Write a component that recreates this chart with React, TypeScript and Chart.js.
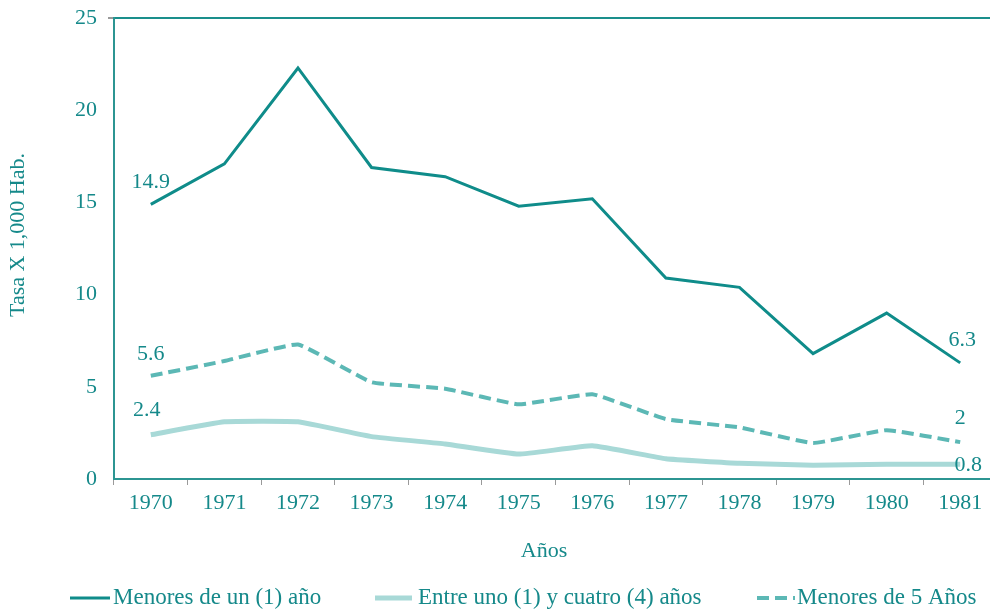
import React, { useEffect, useRef } from "react";
import { Chart, registerables } from "chart.js";

Chart.register(...registerables);

const years = ["1970", "1971", "1972", "1973", "1974", "1975", "1976", "1977", "1978", "1979", "1980", "1981"];
const menoresUnAno = [14.9, 17.1, 22.3, 16.9, 16.4, 14.8, 15.2, 10.9, 10.4, 6.8, 9.0, 6.3];
const entreUnoCuatro = [2.4, 3.1, 3.1, 2.3, 1.9, 1.35, 1.8, 1.1, 0.85, 0.75, 0.8, 0.8];
const menoresCinco = [5.6, 6.4, 7.3, 5.25, 4.9, 4.05, 4.6, 3.25, 2.8, 1.95, 2.65, 2.0];
const seriesNames = ["Menores de un (1) año", "Entre uno (1) y cuatro (4) años", "Menores de 5 Años"];
const yTitle = "Tasa X 1,000 Hab.";
const xTitle = "Años";

const TEXT = "#15898a";
const C1 = "#0f8c8a";
const C2 = "#a8d9d7";
const C3 = "#5cb8b5";
const FONT = "'Liberation Serif', 'Times New Roman', serif";
const OY = 6;

export default function App() {
  const ref = useRef<HTMLCanvasElement | null>(null);
  useEffect(() => {
    if (!ref.current) return;
    const labelPlugin = {
      id: "labelsLegend",
      afterDatasetsDraw(chart: any) {
        const ctx = chart.ctx;
        ctx.save();
        ctx.font = `22px ${FONT}`;
        ctx.fillStyle = TEXT;
        ctx.textAlign = "center";
        ctx.textBaseline = "middle";
        const pt = (d: number, i: number) => chart.getDatasetMeta(d).data[i];
        const last = years.length - 1;
        const fmt = (v: number) => String(v);
        let p = pt(0, 0);
        ctx.fillText(fmt(menoresUnAno[0]), p.x, p.y - 22);
        p = pt(0, last);
        ctx.fillText(fmt(menoresUnAno[last]), p.x + 2, p.y - 23);
        p = pt(2, 0);
        ctx.fillText(fmt(menoresCinco[0]), p.x, p.y - 22);
        p = pt(2, last);
        ctx.fillText(fmt(menoresCinco[last]), p.x, p.y - 24);
        p = pt(1, 0);
        ctx.fillText(fmt(entreUnoCuatro[0]), p.x - 4, p.y - 25);
        p = pt(1, last);
        ctx.fillText(fmt(entreUnoCuatro[last]), p.x + 8, p.y + 1);

        // axis titles
        ctx.fillText(xTitle, 544, 551 + OY);
        ctx.save();
        ctx.translate(18, 235 + OY);
        ctx.rotate(-Math.PI / 2);
        ctx.fillText(yTitle, 0, 0);
        ctx.restore();

        // legend
        ctx.font = `23px ${FONT}`;
        const ly = 598 + OY;
        const items = [
          { x0: 70, x1: 110, tx: 113, color: C1, w: 3, dash: [] as number[] },
          { x0: 375, x1: 412, tx: 418, color: C2, w: 5, dash: [] as number[] },
          { x0: 757, x1: 795, tx: 797, color: C3, w: 4, dash: [12, 6] },
        ];
        items.forEach((it, i) => {
          ctx.beginPath();
          ctx.strokeStyle = it.color;
          ctx.lineWidth = it.w;
          ctx.setLineDash(it.dash);
          ctx.moveTo(it.x0, ly);
          ctx.lineTo(it.x1, ly);
          ctx.stroke();
          ctx.setLineDash([]);
          ctx.textAlign = "left";
          ctx.fillStyle = TEXT;
          ctx.fillText(seriesNames[i], it.tx, ly);
        });
        ctx.restore();
      },
    };
    const chart = new Chart(ref.current, {
      type: "line",
      data: {
        labels: years,
        datasets: [
          { label: seriesNames[0], data: menoresUnAno, borderColor: C1, borderWidth: 3, pointRadius: 0, tension: 0 },
          { label: seriesNames[1], data: entreUnoCuatro, borderColor: C2, borderWidth: 5, pointRadius: 0, tension: 0.1 },
          { label: seriesNames[2], data: menoresCinco, borderColor: C3, borderWidth: 4, borderDash: [12, 6], pointRadius: 0, tension: 0.1 },
        ],
      },
      options: {
        responsive: false,
        animation: false,
        layout: { padding: { left: 0, right: 3, top: 11, bottom: 0 } },
        plugins: { legend: { display: false }, tooltip: { enabled: false } },
        scales: {
          x: {
            type: "category",
            offset: true,
            grid: { offset: true, drawOnChartArea: false, tickLength: 6, tickColor: "#9a9a9a", tickWidth: 1 },
            border: { color: "#2c9592", width: 2 },
            ticks: { color: TEXT, font: { family: FONT, size: 22 }, padding: 5, maxRotation: 0 },
            afterFit: (s: any) => { s.height = 130; },
          },
          y: {
            min: 0,
            max: 25,
            ticks: { stepSize: 5, color: TEXT, font: { family: FONT, size: 22 }, padding: 11 },
            grid: {
              tickLength: 6,
              tickColor: "#9a9a9a",
              color: (c: any) => (c.tick && c.tick.value === 25 ? "#1a8f8c" : "rgba(0,0,0,0)"),
              lineWidth: (c: any) => (c.tick && c.tick.value === 25 ? 2 : 0),
            },
            border: { color: "#2c9592", width: 2 },
            afterFit: (s: any) => { s.width = 114; },
          },
        },
      },
      plugins: [labelPlugin],
    } as any);
    return () => chart.destroy();
  }, []);
  return (
    <div style={{ position: "absolute", left: 0, top: 0, width: 990, height: 609, overflow: "hidden", background: "#fff" }}>
      <canvas ref={ref} width={1000} height={609 + OY} style={{ width: 1000, height: 609 + OY, display: "block", marginTop: -OY }} />
    </div>
  );
}
